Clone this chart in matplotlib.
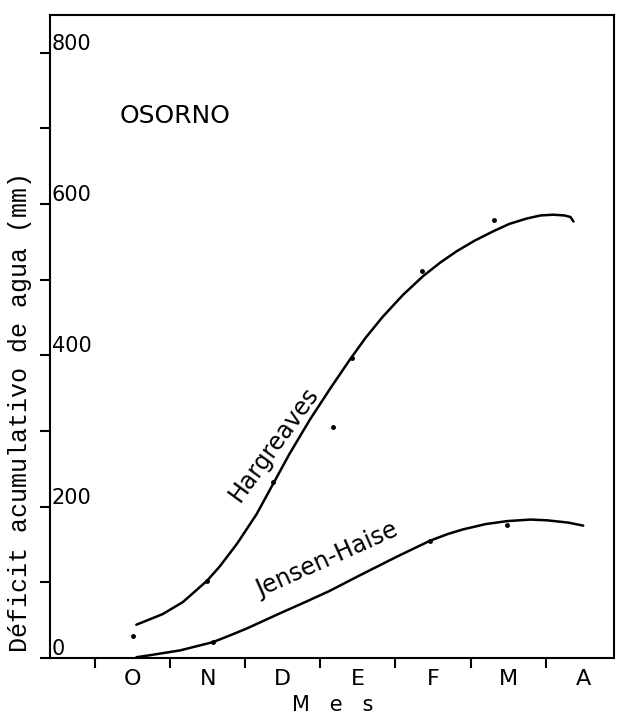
import numpy as np
import matplotlib.pyplot as plt

# months Oct..Apr, x position = month index (O = 0)
meses = ['O', 'N', 'D', 'E', 'F', 'M', 'A']

# curves (mm)
t_harg = [0.05, 0.40, 0.67, 0.99, 1.16, 1.39, 1.65, 1.87, 2.09, 2.36,
          2.63, 2.89, 3.10, 3.33, 3.60, 3.87, 4.10, 4.32, 4.56, 4.80,
          5.02, 5.25, 5.43, 5.60, 5.75, 5.83, 5.87]
harg = [44, 58, 74, 102, 121, 151, 190, 230, 270, 315,
        356, 394, 423, 451, 480, 505, 523, 538, 552, 564,
        574, 581, 585, 586, 585, 583, 577]

t_jh = [0.05, 0.25, 0.63, 1.07, 1.30, 1.52, 1.96, 2.30, 2.63, 3.00,
        3.30, 3.52, 3.96, 4.20, 4.40, 4.70, 4.99, 5.30, 5.52, 5.80, 6.00]
jh = [1, 4, 10, 21, 30, 39, 59, 74, 89, 108,
      123, 134, 155, 164, 170, 177, 181, 183, 182, 179, 175]

# observed points
t_harg_obs = [0.0, 0.99, 1.87, 2.67, 2.92, 3.85, 4.81]
harg_obs = [29, 102, 232, 306, 397, 511, 579]
t_jh_obs = [1.07, 3.96, 4.99]
jh_obs = [21, 155, 176]

y_ticks = [0, 100, 200, 300, 400, 500, 600, 700, 800]
y_labels = ['0', '200', '400', '600', '800']

fig = plt.figure(figsize=(6.29, 7.19), dpi=100)
ax = fig.add_axes([50 / 629, 1 - 658 / 719, 564 / 629, 643 / 719])

ax.plot(t_harg, harg, color='black', lw=1.8, solid_capstyle='round',
        solid_joinstyle='round')
ax.plot(t_jh, jh, color='black', lw=1.8, solid_capstyle='round',
        solid_joinstyle='round')
ax.plot(t_harg_obs, harg_obs, 'o', color='black', ms=2.5)
ax.plot(t_jh_obs, jh_obs, 'o', color='black', ms=2.5)

ax.set_xlim(-1.1, 6.41)
ax.set_ylim(0, 850)

for s in ax.spines.values():
    s.set_linewidth(1.5)

# x: visible ticks between months, labels centred on months
ax.set_xticks(np.arange(-0.5, 6.0, 1.0))
ax.set_xticklabels([])
ax.set_xticks(range(len(meses)), minor=True)
ax.set_xticklabels(meses, minor=True, fontsize=16)
ax.tick_params(axis='x', which='major', direction='out', length=7, width=1.5)
ax.tick_params(axis='x', which='minor', length=0, pad=8)

# y: ticks every 100, labels inside the frame
ax.set_yticks(y_ticks)
ax.set_yticklabels([])
ax.tick_params(axis='y', direction='out', length=7, width=1.5)
for lab in y_labels:
    v = int(lab)
    ax.text(-1.08, v + 12, lab, fontsize=15, ha='left', va='center')

ax.text(0.56, 716, 'OSORNO', fontsize=18, ha='center', va='center')
ax.text(1.88, 283, 'Hargreaves', fontsize=17, rotation=54,
        rotation_mode='anchor', ha='center', va='center')
ax.text(2.59, 130, 'Jensen-Haise', fontsize=17, rotation=24,
        rotation_mode='anchor', ha='center', va='center')

fig.text(333 / 629, 1 - 705 / 719, 'M   e   s', fontsize=15,
         ha='center', va='center')
fig.text(20 / 629, 1 - 412 / 719, 'Déficit acumulativo de agua (mm)',
         fontsize=18, family='Liberation Mono', rotation=90,
         ha='center', va='center')

fig.savefig('out.png', dpi=100)
